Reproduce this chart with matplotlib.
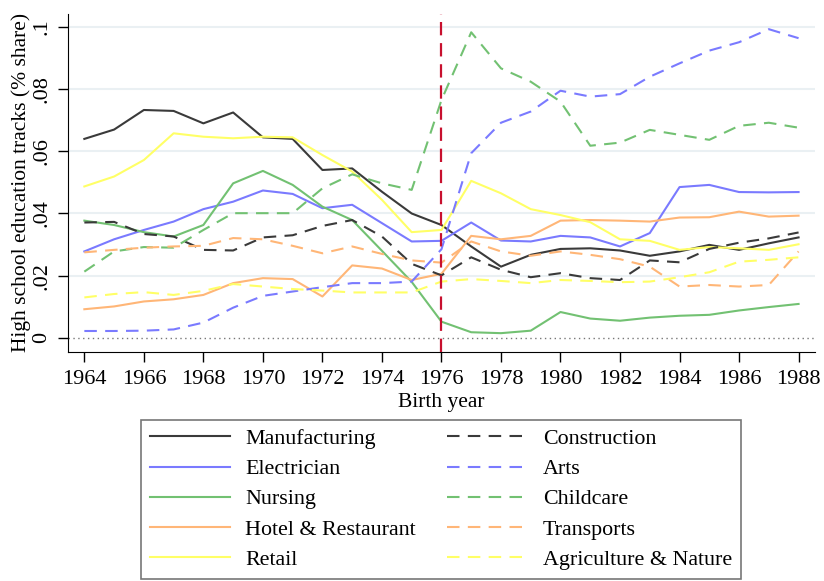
import numpy as np
import matplotlib
matplotlib.use("Agg")
import matplotlib.pyplot as plt

plt.rcParams["font.family"] = ["Liberation Serif", "DejaVu Serif"]

years = list(range(1964, 1989))

# solid series
manufacturing = [.0640, .0670, .0733, .0730, .0690, .0725, .0645, .0640, .0540, .0545, .0470, .0400,
                 .0363, .0294, .0229, .0267, .0286, .0288, .0281, .0264, .0278, .0299, .0283, .0304, .0323]
electrician = [.0278, .0317, .0347, .0374, .0414, .0438, .0474, .0463, .0417, .0428, .0369, .0310,
               .0312, .0371, .0313, .0310, .0328, .0323, .0294, .0337, .0485, .0492, .0469, .0468, .0469]
nursing = [.0377, .0363, .0340, .0326, .0363, .0497, .0537, .0492, .0422, .0379, .0280, .0180,
           .0052, .0018, .0015, .0023, .0083, .0062, .0055, .0065, .0071, .0074, .0088, .0099, .0109]
hotel = [.0092, .0101, .0117, .0124, .0138, .0176, .0192, .0189, .0133, .0233, .0223, .0186,
         .0206, .0328, .0317, .0328, .0377, .0379, .0377, .0374, .0387, .0388, .0406, .0390, .0393]
retail = [.0487, .0519, .0572, .0658, .0647, .0642, .0647, .0645, .0588, .0535, .0444, .0340,
          .0347, .0505, .0465, .0414, .0395, .0372, .0317, .0312, .0283, .0292, .0288, .0283, .0301]

# dashed series
construction = [.0371, .0373, .0334, .0326, .0283, .0281, .0323, .0330, .0360, .0379, .0326, .0238,
                .0201, .0259, .0219, .0195, .0208, .0192, .0186, .0249, .0243, .0286, .0306, .0320, .0339]
arts = [.0022, .0022, .0023, .0027, .0049, .0097, .0135, .0149, .0163, .0176, .0176, .0181,
        .0285, .0594, .0692, .0728, .0795, .0776, .0784, .0840, .0883, .0924, .0951, .0993, .0964]
childcare = [.0213, .0278, .0292, .0290, .0347, .0401, .0401, .0401, .0481, .0526, .0497, .0476,
             .0765, .0983, .0867, .0824, .0760, .0618, .0628, .0669, .0653, .0637, .0682, .0692, .0676]
transports = [.0275, .0283, .0290, .0294, .0296, .0321, .0317, .0296, .0272, .0294, .0270, .0249,
              .0242, .0310, .0278, .0264, .0278, .0267, .0253, .0229, .0165, .0170, .0165, .0170, .0278]
agriculture = [.0130, .0141, .0147, .0138, .0151, .0173, .0165, .0157, .0152, .0146, .0146, .0146,
               .0181, .0189, .0183, .0176, .0186, .0183, .0179, .0181, .0195, .0211, .0245, .0251, .0259]

solid_names = ["Manufacturing", "Electrician", "Nursing", "Hotel & Restaurant", "Retail"]
dashed_names = ["Construction", "Arts", "Childcare", "Transports", "Agriculture & Nature"]
colors = ["#3a3a3a", "#7a7aff", "#72c172", "#ffb677", "#ffff66"]

fig = plt.figure(figsize=(8.24, 5.81), dpi=100)
ax = fig.add_axes([0.0825, 0.395, 0.9065, 0.581])

for y in [0.02, 0.04, 0.06, 0.08, 0.1]:
    ax.axhline(y, color="#eaf0f3", linewidth=1.5, zorder=0)
ax.axhline(0, color="#777777", linewidth=1, linestyle=(0, (1, 2.5)), zorder=1)

solid_handles = []
dashed_handles = []
for name, vals, c in zip(solid_names, [manufacturing, electrician, nursing, hotel, retail], colors):
    ln, = ax.plot(years, vals, color=c, linewidth=1.5, label=name, zorder=3)
    solid_handles.append(ln)
for name, vals, c in zip(dashed_names, [construction, arts, childcare, transports, agriculture], colors):
    ln, = ax.plot(years, vals, color=c, linewidth=1.5, label=name, zorder=3)
    ln.set_dashes((6, 4))
    dashed_handles.append(ln)

ax.axvline(1976, color="#c8102e", linewidth=1.6, dashes=(6, 3.5), zorder=4)

ax.set_xlim(1963.45, 1988.55)
ax.set_ylim(-0.0044, 0.1042)
ax.set_xticks(range(1964, 1989, 2))
ax.set_yticks([0, 0.02, 0.04, 0.06, 0.08, 0.1])
ax.set_yticklabels(["0", ".02", ".04", ".06", ".08", ".1"], rotation=90, va="center")
ax.tick_params(axis="both", labelsize=16, length=7, width=1, color="black")
ax.tick_params(axis="x", pad=6)
ax.tick_params(axis="y", pad=5)
ax.spines["top"].set_visible(False)
ax.spines["right"].set_visible(False)
ax.set_xlabel("Birth year", fontsize=15.5, labelpad=3)
ax.set_ylabel("High school education tracks (% share)", fontsize=15.5, labelpad=1)

handles = solid_handles + dashed_handles
leg = fig.legend(handles=handles, loc="lower center", bbox_to_anchor=(0.535, 0.004), ncol=2,
                 fontsize=15.8, frameon=True, fancybox=False, edgecolor="#555555",
                 handlelength=3.65, handletextpad=0.7, columnspacing=1.45, labelspacing=0.45,
                 borderpad=0.4, borderaxespad=0.0)
leg.get_frame().set_linewidth(1.2)

plt.savefig("out.png", dpi=100, facecolor="white")
plt.close()
